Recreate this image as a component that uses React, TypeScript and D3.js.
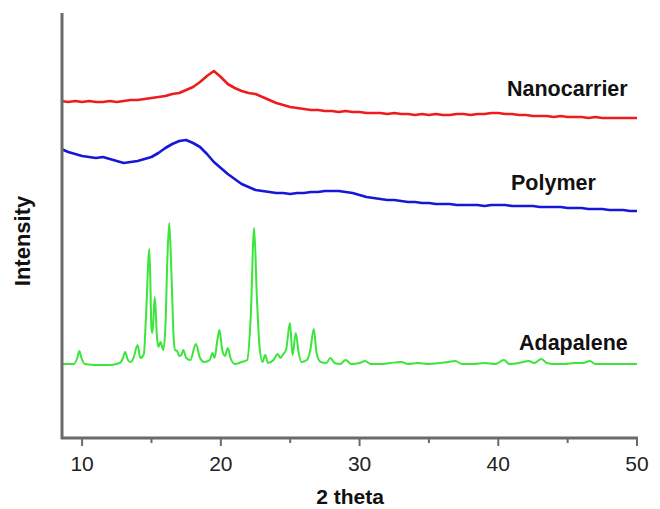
import React from "react";
import * as d3 from "d3";

// x axis ticks (2 theta, degrees)
const majorTicks = [10, 20, 30, 40, 50];
const minorTicks = [15, 25, 35, 45];

// intensities in arbitrary units
const nanocarrier: [number, number][] = [
  [8.5, 337], [9, 336], [9.5, 337], [10, 336], [10.5, 337], [11, 336], [11.5, 336], [12, 337],
  [12.5, 336], [13, 337], [13.5, 338], [14, 338], [14.5, 339], [15, 340], [15.5, 341], [16, 342],
  [16.5, 344], [17, 345], [17.5, 348], [18, 351], [18.5, 356], [19, 362], [19.5, 367], [20, 361],
  [20.5, 354], [21, 350], [21.5, 347], [22, 345], [22.5, 344], [23, 341], [23.5, 338], [24, 335],
  [24.5, 333], [25, 331], [25.5, 330], [26, 329], [26.5, 328], [27, 328], [27.5, 327], [28, 327],
  [28.5, 326], [29, 327], [29.5, 326], [30, 326], [30.5, 325], [31, 325], [31.5, 325], [32, 324],
  [32.5, 325], [33, 324], [33.5, 324], [34, 323], [34.5, 324], [35, 323], [35.5, 324], [36, 323],
  [36.5, 323], [37, 324], [37.5, 324], [38, 323], [38.5, 324], [39, 324], [39.5, 325], [40, 325],
  [40.5, 324], [41, 324], [41.5, 323], [42, 323], [42.5, 322], [43, 322], [43.5, 322], [44, 321],
  [44.5, 322], [45, 321], [45.5, 321], [46, 321], [46.5, 320], [47, 321], [47.5, 320], [48, 320],
  [48.5, 320], [49, 320], [49.5, 320], [50, 320],
];

const polymer: [number, number][] = [
  [8.5, 289], [9, 286], [9.5, 284], [10, 282], [10.5, 281], [11, 280], [11.5, 281], [12, 279],
  [12.5, 277], [13, 275], [13.5, 276], [14, 277], [14.5, 279], [15, 281], [15.5, 285], [16, 290],
  [16.5, 294], [17, 297], [17.5, 298], [18, 295], [18.5, 291], [19, 284], [19.5, 276], [20, 270],
  [20.5, 264], [21, 259], [21.5, 254], [22, 251], [22.5, 248], [23, 247], [23.5, 246], [24, 245],
  [24.5, 245], [25, 244], [25.5, 245], [26, 245], [26.5, 246], [27, 246], [27.5, 247], [28, 247],
  [28.5, 247], [29, 246], [29.5, 245], [30, 243], [30.5, 241], [31, 240], [31.5, 239], [32, 238],
  [32.5, 238], [33, 237], [33.5, 236], [34, 236], [34.5, 235], [35, 235], [35.5, 234], [36, 234],
  [36.5, 234], [37, 233], [37.5, 233], [38, 233], [38.5, 233], [39, 232], [39.5, 233], [40, 233],
  [40.5, 233], [41, 232], [41.5, 232], [42, 232], [42.5, 232], [43, 231], [43.5, 231], [44, 231],
  [44.5, 231], [45, 230], [45.5, 230], [46, 230], [46.5, 229], [47, 229], [47.5, 229], [48, 228],
  [48.5, 228], [49, 228], [49.5, 227], [50, 227],
];

const adapalene: [number, number][] = [
  [8.55, 74], [9.4, 74], [9.65, 80], [9.8, 87], [9.95, 80], [10.2, 74], [11, 73], [12, 73],
  [12.7, 75], [12.95, 80], [13.1, 86], [13.3, 78], [13.5, 76], [13.7, 80], [14.0, 93], [14.2, 80],
  [14.45, 84], [14.6, 120], [14.85, 189], [15.0, 110], [15.07, 105], [15.24, 141], [15.4, 100],
  [15.5, 91], [15.65, 96], [15.85, 88], [16.0, 110], [16.15, 180], [16.28, 215], [16.45, 160],
  [16.6, 100], [16.7, 88], [16.85, 87], [17.0, 82], [17.15, 83], [17.3, 88], [17.5, 80],
  [17.8, 78], [18.2, 94], [18.5, 80], [18.8, 76], [19.2, 78], [19.4, 85], [19.55, 80],
  [19.75, 98], [19.9, 108], [20.1, 88], [20.3, 82], [20.5, 90], [20.7, 80], [21.0, 74],
  [21.5, 76], [21.9, 78], [22.15, 120], [22.4, 210], [22.6, 140], [22.8, 90], [23.0, 76],
  [23.2, 83], [23.4, 75], [23.8, 78], [24.1, 84], [24.3, 80], [24.5, 84], [24.7, 88],
  [24.98, 115], [25.17, 83], [25.4, 105], [25.6, 86], [25.8, 76], [26.2, 78], [26.45, 88],
  [26.7, 109], [26.9, 85], [27.2, 76], [27.6, 75], [27.9, 80], [28.2, 75], [28.6, 74],
  [29.0, 78], [29.4, 74], [30.0, 75], [30.4, 77], [30.8, 74], [31.5, 74], [32.2, 75],
  [33.0, 76], [33.5, 74], [34.2, 75], [35.0, 74], [35.8, 75], [36.4, 76], [36.9, 77],
  [37.4, 74], [38.2, 74], [39.0, 75], [39.8, 74], [40.4, 78], [40.8, 74], [41.5, 75],
  [42.2, 77], [42.6, 75], [43.1, 79], [43.5, 75], [44.0, 74], [44.8, 74], [45.5, 75],
  [46.1, 75], [46.6, 77], [47.0, 74], [48.0, 74], [49.0, 74], [50.0, 74],
];

const seriesNames = ["Nanocarrier", "Polymer", "Adapalene"];

const W = 660;
const H = 509;
const left = 62;
const right = 637;
const top = 13;
const bottom = 438;
const font = "'Liberation Sans', Arial, sans-serif";
const axisColor = "#6a6a6a";

export default function App() {
  const x = d3.scaleLinear().domain([8.55, 50]).range([left, right]);
  const y = d3.scaleLinear().domain([0, 425]).range([bottom, top]);

  const line = d3
    .line<[number, number]>()
    .x((d) => x(d[0]))
    .y((d) => y(d[1]));
  const smooth = d3
    .line<[number, number]>()
    .x((d) => x(d[0]))
    .y((d) => y(d[1]))
    .curve(d3.curveMonotoneX);

  const series = [
    { name: seriesNames[0], data: nanocarrier, color: "#ee1c1c", gen: line, lx: 507, ly: 96 },
    { name: seriesNames[1], data: polymer, color: "#1717d8", gen: line, lx: 511, ly: 190 },
    { name: seriesNames[2], data: adapalene, color: "#3ae63a", gen: smooth, lx: 519, ly: 350 },
  ];

  return (
    <svg
      width={W}
      height={H}
      style={{ position: "absolute", left: 0, top: 0, background: "#fff" }}
      fontFamily={font}
    >
      {series.map((s) => (
        <path
          key={s.name}
          d={s.gen(s.data) ?? ""}
          fill="none"
          stroke={s.color}
          strokeWidth={s.gen === line ? 2.6 : 2}
          strokeLinejoin="round"
        />
      ))}

      {/* axes */}
      <line x1={left} x2={left} y1={top} y2={bottom + 1} stroke={axisColor} strokeWidth={3} />
      <line x1={left - 1} x2={right + 1} y1={bottom} y2={bottom} stroke={axisColor} strokeWidth={3} />
      {majorTicks.map((t) => (
        <g key={t}>
          <line x1={x(t)} x2={x(t)} y1={bottom} y2={bottom + 8} stroke={axisColor} strokeWidth={2} />
          <text x={x(t)} y={471} textAnchor="middle" fontSize={21} fill="#222">
            {t}
          </text>
        </g>
      ))}
      {minorTicks.map((t) => (
        <line key={t} x1={x(t)} x2={x(t)} y1={bottom} y2={bottom + 5} stroke={axisColor} strokeWidth={2} />
      ))}

      <text x={350} y={504} textAnchor="middle" fontSize={21} fontWeight="bold" fill="#111">
        2 theta
      </text>
      <text
        transform="translate(30,241) rotate(-90)"
        textAnchor="middle"
        fontSize={22}
        fontWeight="bold"
        fill="#111"
      >
        Intensity
      </text>

      {series.map((s) => (
        <text key={s.name} x={s.lx} y={s.ly} fontSize={21.5} fontWeight="bold" fill="#111">
          {s.name}
        </text>
      ))}
    </svg>
  );
}
